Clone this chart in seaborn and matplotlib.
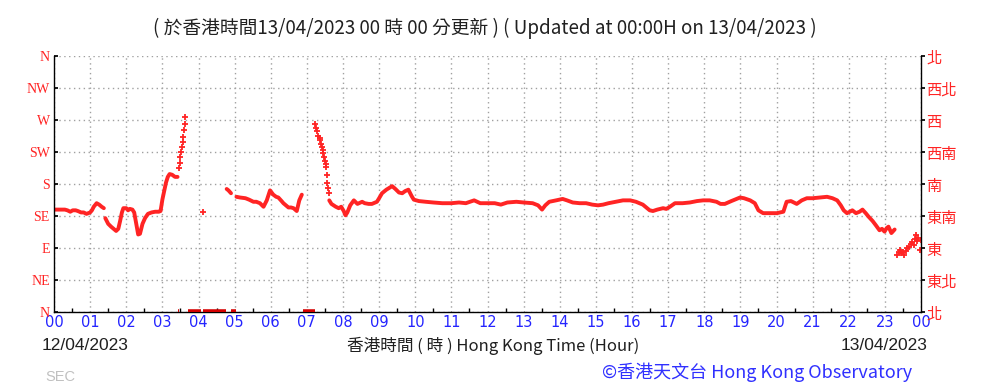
import numpy as np
import pandas as pd
import matplotlib
matplotlib.use("Agg")
import matplotlib.pyplot as plt
import seaborn as sns

# ---------------- data (hour of day, wind direction in degrees) ----------------
nan = np.nan
# line segments separated by NaN
line_hours = [0.0, 0.1, 0.2, 0.3, 0.37, 0.45, 0.52, 0.6, 0.66, 0.75, 0.82, 0.9, 1.0, 1.05, 1.1, 1.18, 1.25, 1.32, 1.38, nan,
              1.42, 1.5, 1.58, 1.65, 1.72, 1.78, 1.83, 1.88, 1.92, 2.0, 2.05, 2.1, 2.17, 2.22, 2.27, 2.33, 2.38, 2.45,
              2.52, 2.6, 2.7, 2.8, 2.9, 2.95, 3.0, 3.05, 3.1, 3.15, 3.2, 3.27, 3.35, 3.42, nan,
              4.78, 4.83, 4.9, nan,
              5.05, 5.15, 5.3, 5.4, 5.52, 5.6, 5.7, 5.8, 5.89, 5.98, 6.07, 6.15, 6.21, 6.3, 6.35, 6.42, 6.49, 6.56,
              6.63, 6.72, 6.79, 6.86, nan,
              7.62, 7.68, 7.74, 7.8, 7.88, 7.95, 8.02, 8.07, 8.12, 8.2, 8.3, 8.4, 8.53, 8.6, 8.71, 8.8, 8.94, 9.0,
              9.08, 9.2, 9.36, 9.45, 9.55, 9.64, 9.72, 9.81, 9.9, 9.96, 10.1, 10.29, 10.5, 10.75, 11.0, 11.21, 11.4,
              11.63, 11.8, 12.0, 12.2, 12.37, 12.55, 12.8, 13.0, 13.25, 13.4, 13.51, 13.6, 13.71, 13.9, 14.08, 14.2,
              14.36, 14.55, 14.73, 14.9, 15.06, 15.2, 15.35, 15.55, 15.75, 15.95, 16.11, 16.3, 16.49, 16.58, 16.7,
              16.86, 16.95, 17.05, 17.19, 17.4, 17.6, 17.8, 17.97, 18.15, 18.34, 18.45, 18.57, 18.75, 18.99, 19.1,
              19.27, 19.4, 19.5, 19.63, 19.8, 20.01, 20.1, 20.19, 20.28, 20.4, 20.56, 20.7, 20.84, 21.0, 21.2, 21.4,
              21.55, 21.68, 21.78, 21.86, 21.95, 22.03, 22.1, 22.2, 22.3, 22.38, 22.47, 22.55, 22.66, 22.75, 22.85,
              22.92, 22.99, 23.05, 23.1, 23.18, 23.27]
line_deg = [144, 144, 144, 144, 143, 141, 143, 143, 142, 140, 140, 138, 140, 143, 148, 153, 151, 148, 146, nan,
            132, 124, 120, 117, 114, 117, 128, 140, 146, 146, 143, 145, 144, 140, 126, 109, 110, 124,
            132, 138, 140, 141, 141, 142, 158, 170, 182, 190, 194, 193, 190, 190, nan,
            173, 171, 167, nan,
            162, 161, 160, 158, 155, 155, 153, 148, 157, 171, 165, 162, 161, 156, 153, 150, 147, 147,
            146, 142, 157, 165, nan,
            157, 152, 150, 148, 146, 148, 142, 136, 140, 150, 157, 152, 155, 153, 152, 152, 155, 160,
            167, 172, 177, 173, 168, 167, 170, 172, 163, 158, 156, 155, 154, 153, 153, 154, 153,
            157, 153, 153, 153, 151, 154, 155, 154, 153, 150, 144, 150, 155, 157, 159, 157,
            154, 153, 153, 151, 150, 151, 153, 155, 157, 157, 155, 151, 143, 142, 144,
            146, 145, 148, 153, 153, 154, 156, 157, 157, 155, 152, 152, 156, 161, 160,
            157, 153, 143, 139, 139, 139, 140, 141, 155, 156, 152, 157, 160, 160, 161, 162,
            160, 157, 150, 143, 139, 141, 143, 139, 141, 144, 139, 134, 128, 122, 115,
            117, 113, 118, 120, 111, 116]

# isolated / fast-changing samples drawn as separate markers
pt_hours = [3.46, 3.48, 3.5, 3.52, 3.54, 3.56, 3.58, 3.6, 3.62, 3.63,
            4.13,
            7.23, 7.26, 7.29, 7.32, 7.35, 7.37, 7.4, 7.42, 7.44, 7.46, 7.48, 7.5, 7.52, 7.53, 7.55, 7.57, 7.59, 7.6,
            23.34, 23.38, 23.42, 23.45, 23.5, 23.54, 23.58, 23.62, 23.68, 23.72, 23.76, 23.8, 23.84, 23.87,
            23.9, 23.93, 23.96, 24.0]
pt_deg = [202, 210, 218, 225, 232, 239, 246, 256, 265, 274,
          141,
          264, 259, 254, 248, 244, 242, 236, 232, 228, 223, 218, 213, 208, 204, 193, 181, 174, 168,
          80, 84, 87, 83, 85, 80, 86, 90, 92, 96, 99, 94, 103, 108,
          100, 104, 87, 101]

# calm / variable periods shown on the baseline
calm_start = [3.44, 3.70, 4.12, 4.90, 6.88]
calm_end = [3.46, 4.07, 4.77, 5.03, 7.22]

hour_labels = ["00", "01", "02", "03", "04", "05", "06", "07", "08", "09", "10", "11", "12",
               "13", "14", "15", "16", "17", "18", "19", "20", "21", "22", "23", "00"]
dir_deg = [0, 45, 90, 135, 180, 225, 270, 315, 360]
dir_en = ["N", "NE", "E", "SE", "S", "SW", "W", "NW", "N"]
dir_zh = ["北", "東北", "東", "東南", "南", "西南", "西", "西北", "北"]

# ---------------- build tables ----------------
lh = np.array(line_hours, dtype=float)
ld = np.array(line_deg, dtype=float)
seg = np.cumsum(np.isnan(lh))
df_line = pd.DataFrame({"hour": lh, "deg": ld, "seg": seg}).dropna()
df_pts = pd.DataFrame({"hour": pt_hours, "deg": pt_deg})

sns.set_theme(style="white")
plt.rcParams["font.family"] = ["DejaVu Sans", "Noto Sans CJK TC"]

fig = plt.figure(figsize=(9.83, 3.88), dpi=100)
ax = fig.add_axes([54 / 983, 1 - 312 / 388, (921 - 54) / 983, (312 - 56) / 388])

RED = "#ff2424"
for _, g in df_line.groupby("seg"):
    sns.lineplot(data=g, x="hour", y="deg", sort=False, estimator=None, color=RED,
                 linewidth=2.8, linestyle="-", ax=ax, legend=False)
sns.scatterplot(data=df_pts, x="hour", y="deg", color=RED, marker="+", s=18, linewidth=1.3, ax=ax,
                legend=False)
ax.hlines([0] * len(calm_start), calm_start, calm_end, colors="#d40000", linewidth=4, clip_on=True, zorder=5)

ax.set_xlim(0, 24)
ax.set_ylim(0, 360)
ax.set_xlabel("")
ax.set_ylabel("")

ax.set_xticks(range(25))
ax.set_xticklabels(hour_labels, color="#2424ff", fontsize=10.5, family="DejaVu Sans")
ax.set_xticks(np.arange(0.5, 24, 0.5), minor=True)
ax.set_yticks(dir_deg)
ax.set_yticklabels(dir_en, color=RED, fontsize=10, family="Liberation Serif")

ax.grid(True, which="major", color="#a0a0a0", linestyle=(0, (1, 2.5)), linewidth=1.0)
for s in ["left", "right", "bottom"]:
    ax.spines[s].set_visible(True)
    ax.spines[s].set_color("black")
    ax.spines[s].set_linewidth(1.0)
ax.spines["top"].set_visible(False)

ax.tick_params(axis="x", which="major", direction="in", length=0, pad=2)
ax.tick_params(axis="x", which="minor", direction="in", length=3, color="black", bottom=True)
ax.tick_params(axis="y", direction="in", length=3, color="black", left=True, pad=3)

# right axis with Chinese labels
ax2 = ax.twinx()
ax2.set_ylim(0, 360)
ax2.set_yticks(dir_deg)
ax2.set_yticklabels(dir_zh, color=RED, fontsize=11, family="Noto Sans CJK TC")
ax2.tick_params(axis="y", direction="out", length=3, color="black", right=True, pad=1)
ax2.grid(False)
for s in ["left", "right", "bottom", "top"]:
    ax2.spines[s].set_visible(False)

# texts
cjk = ["Noto Sans CJK TC", "DejaVu Sans"]
fig.text(485 / 983, 1 - 28 / 388,
         "( 於香港時間13/04/2023 00 時 00 分更新 ) ( Updated at 00:00H on 13/04/2023 )",
         ha="center", va="center", fontsize=13.5, color="#202020", family=cjk)
fig.text(42 / 983, 1 - 346 / 388, "12/04/2023", ha="left", va="center", fontsize=12.5,
         color="#202020", family="Liberation Sans")
fig.text(927 / 983, 1 - 346 / 388, "13/04/2023", ha="right", va="center", fontsize=12.5,
         color="#202020", family="Liberation Sans")
fig.text(493 / 983, 1 - 346 / 388, "香港時間 ( 時 ) Hong Kong Time (Hour)", ha="center", va="center",
         fontsize=12, color="#202020", family=cjk)
fig.text(45 / 983, 1 - 377 / 388, "SEC", ha="left", va="center", fontsize=10.5, color="#c0c0c0",
         family="Liberation Sans")
fig.text(912 / 983, 1 - 372 / 388, "©香港天文台 Hong Kong Observatory", ha="right", va="center",
         fontsize=13, color="#3030ff", family=cjk)

fig.savefig("out.png", dpi=100)
